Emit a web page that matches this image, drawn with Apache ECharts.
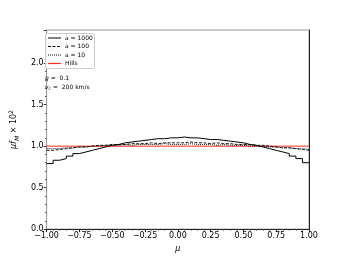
<!DOCTYPE html>
<html><head><meta charset="utf-8">
<script src="https://cdn.jsdelivr.net/npm/echarts@6/dist/echarts.min.js"></script>
<style>html,body{margin:0;padding:0;background:#fff}#c{width:344px;height:258px}</style>
</head><body><div id="c"></div>
<script>
// histogram bins: 40 bins of width 0.05 on [-1, 1]
const binStart = -1.0, binWidth = 0.05;
const a1000 = [0.79,0.83,0.85,0.88,0.91,0.93,0.95,0.97,0.99,1.01,1.02,1.04,1.05,1.06,1.07,1.08,1.09,1.09,1.10,1.10,
               1.11,1.10,1.10,1.09,1.08,1.08,1.07,1.06,1.05,1.04,1.02,1.01,0.99,0.97,0.95,0.93,0.91,0.88,0.85,0.80];
const a100  = [0.95,0.96,0.97,0.98,0.99,0.99,1.00,1.01,1.01,1.02,1.02,1.02,1.03,1.03,1.03,1.04,1.03,1.04,1.04,1.04,
               1.04,1.05,1.04,1.04,1.03,1.04,1.03,1.03,1.02,1.02,1.02,1.01,1.01,1.00,0.99,0.98,0.98,0.97,0.96,0.95];
const a10   = [0.97,0.97,0.98,0.98,0.99,0.99,1.00,1.00,1.01,1.01,1.01,1.02,1.01,1.02,1.02,1.02,1.02,1.03,1.02,1.02,
               1.02,1.03,1.02,1.02,1.02,1.01,1.02,1.01,1.01,1.01,1.00,1.00,1.00,0.99,0.99,0.98,0.98,0.97,0.97,0.96];
const hills = 1.0;
const xTicks = [-1.00,-0.75,-0.50,-0.25,0.00,0.25,0.50,0.75,1.00];
const yTicks = [0.0,0.5,1.0,1.5,2.0];
const legendNames = ['a = 1000','a = 100','a = 10','Hills'];

function stepData(vals){
  const d = vals.map((v,i)=>[binStart + i*binWidth, v]);
  d.push([binStart + vals.length*binWidth, vals[vals.length-1]]);
  return d;
}
const FONT = 'DejaVu Sans';
const fmtNum = (v,dec)=> (v<0?'\u2212':'') + Math.abs(v).toFixed(dec);

const chart = echarts.init(document.getElementById('c'), null, {renderer:'canvas'});
const L = 43, T = 30, R = 309, B = 230;
chart.setOption({
  animation:false,
  grid:{left:L, top:T, width:R-L, height:B-T, show:true, borderColor:'#9a9a9a', borderWidth:1, backgroundColor:'transparent'},
  xAxis:[{
    type:'value', min:-1, max:1, interval:0.25,
    axisLine:{show:true, onZero:false, lineStyle:{color:'#222', width:1}},
    axisTick:{show:true, length:3, lineStyle:{color:'#222'}},
    minorTick:{show:true, splitNumber:5, length:1.5, lineStyle:{color:'#444'}},
    splitLine:{show:false},
    axisLabel:{fontFamily:FONT, fontSize:8, color:'#000', margin:3,
      formatter:v=> xTicks.some(t=>Math.abs(t-v)<1e-6) ? fmtNum(v,2) : ''},
    name:'μ', nameLocation:'middle', nameGap:15,
    nameTextStyle:{fontFamily:FONT, fontSize:8, fontStyle:'italic', color:'#000'}
  }],
  yAxis:[{
    type:'value', min:0, max:2.4, interval:0.5, position:'left',
    axisLine:{show:true, onZero:false, lineStyle:{color:'#9a9a9a', width:1}},
    axisTick:{show:true, length:3, lineStyle:{color:'#444'}},
    minorTick:{show:true, splitNumber:5, length:1.5, lineStyle:{color:'#555'}},
    splitLine:{show:false},
    axisLabel:{fontFamily:FONT, fontSize:8, color:'#000', margin:3,
      formatter:v=> yTicks.some(t=>Math.abs(t-v)<1e-6) ? fmtNum(v,1) : ''},
    name:'{i|μf}{s|M}{n| × 10}{p|2}', nameLocation:'middle', nameGap:24, nameRotate:90,
    nameTextStyle:{fontFamily:FONT, fontSize:8, color:'#000',
      rich:{
        i:{fontFamily:FONT, fontSize:8, fontStyle:'italic', color:'#000', lineHeight:12, verticalAlign:'middle'},
        s:{fontFamily:FONT, fontSize:6, fontStyle:'italic', color:'#000', lineHeight:12, verticalAlign:'bottom'},
        n:{fontFamily:FONT, fontSize:8, color:'#000', lineHeight:12, verticalAlign:'middle'},
        p:{fontFamily:FONT, fontSize:6, color:'#000', lineHeight:12, verticalAlign:'top'}
      }}
  },{
    type:'value', min:0, max:2.4, position:'right',
    axisLine:{show:true, onZero:false, lineStyle:{color:'#222', width:1}},
    axisTick:{show:false}, axisLabel:{show:false}, splitLine:{show:false}
  }],
  series:[
    {name:legendNames[3], type:'line', data:[[-1,hills],[1,hills]], symbol:'none',
      lineStyle:{color:'#ff2a1a', width:1}, z:1},
    {name:legendNames[2], type:'line', step:'end', data:stepData(a10), symbol:'none',
      lineStyle:{color:'#000', width:0.9, type:[1,1]}, z:2},
    {name:legendNames[1], type:'line', step:'end', data:stepData(a100), symbol:'none',
      lineStyle:{color:'#000', width:0.9, type:[3,1.5]}, z:3},
    {name:legendNames[0], type:'line', step:'end', data:stepData(a1000), symbol:'none',
      lineStyle:{color:'#000', width:1}, z:4}
  ],
  graphic:[
    {type:'rect', shape:{x:45.5, y:33.5, width:49, height:35, r:1.5},
      style:{fill:'rgba(255,255,255,0.85)', stroke:'#cccccc', lineWidth:1}, z:100},
    {type:'line', shape:{x1:48, y1:38, x2:61, y2:38}, style:{stroke:'#000', lineWidth:1}, z:101},
    {type:'line', shape:{x1:48, y1:46.5, x2:61, y2:46.5}, style:{stroke:'#000', lineWidth:1, lineDash:[3,1.5]}, z:101},
    {type:'line', shape:{x1:48, y1:55, x2:61, y2:55}, style:{stroke:'#000', lineWidth:1, lineDash:[1,1]}, z:101},
    {type:'line', shape:{x1:48, y1:63.5, x2:61, y2:63.5}, style:{stroke:'#ff2a1a', lineWidth:1.2}, z:101},
    {type:'text', x:65, y:38, style:{text:legendNames[0], font:'6px "DejaVu Sans"', fill:'#000', textVerticalAlign:'middle'}, z:101},
    {type:'text', x:65, y:46.5, style:{text:legendNames[1], font:'6px "DejaVu Sans"', fill:'#000', textVerticalAlign:'middle'}, z:101},
    {type:'text', x:65, y:55, style:{text:legendNames[2], font:'6px "DejaVu Sans"', fill:'#000', textVerticalAlign:'middle'}, z:101},
    {type:'text', x:65, y:63.5, style:{text:legendNames[3], font:'6px "DejaVu Sans"', fill:'#000', textVerticalAlign:'middle'}, z:101},
    {type:'text', x:45, y:78, style:{
      text:'{i|q}{n| =  0.1}',
      rich:{i:{fontFamily:FONT, fontSize:6, fontStyle:'italic', fill:'#000'}, n:{fontFamily:FONT, fontSize:6, fill:'#000'}},
      verticalAlign:'middle'}, z:101},
    {type:'text', x:45, y:87, style:{
      text:'{i|v}{s|c}{n| =  200 km/s}',
      rich:{i:{fontFamily:FONT, fontSize:6, fontStyle:'italic', fill:'#000', lineHeight:8, verticalAlign:'middle'},
            s:{fontFamily:FONT, fontSize:4.5, fill:'#000', lineHeight:8, verticalAlign:'bottom'},
            n:{fontFamily:FONT, fontSize:6, fill:'#000', lineHeight:8, verticalAlign:'middle'}},
      verticalAlign:'middle'}, z:101}
  ]
});
</script></body></html>
